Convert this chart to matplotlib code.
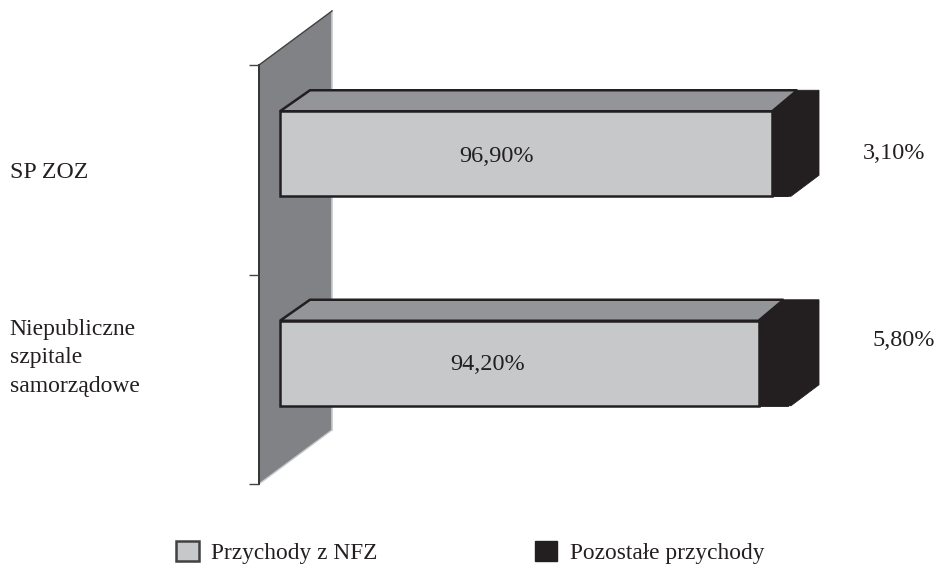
import matplotlib
matplotlib.use("Agg")
import matplotlib.pyplot as plt
from matplotlib.patches import Polygon, Patch

categories = ["SP ZOZ", "Niepubliczne\nszpitale\nsamorządowe"]
nfz_values = [96.9, 94.2]
other_values = [3.1, 5.8]
nfz_labels = ["96,90%", "94,20%"]
other_labels = ["3,10%", "5,80%"]
series_names = ["Przychody z NFZ", "Pozostałe przychody"]

plt.rcParams["font.family"] = ["Liberation Serif"]
W, H = 936, 564
PX_PER_PCT = 5.08
PX_PER_CAT = 209.5
X0, Y0 = 280, 484
FRONT, TOP, DARK, WALL, EDGE = "#c7c8ca", "#939598", "#231f20", "#808285", "#231f20"
INK = "#231f20"
FS = 17.5

fig = plt.figure(figsize=(W / 100, H / 100), dpi=100, facecolor="white")
ax = fig.add_axes([0, 0, 1, 1])
ax.set_xlim(-X0 / PX_PER_PCT, (W - X0) / PX_PER_PCT)
ax.set_ylim((Y0 - H) / PX_PER_CAT, Y0 / PX_PER_CAT)
ax.axis("off")

def dx(px):
    return px / PX_PER_PCT

def dy(px):
    return px / PX_PER_CAT

def xp(px):
    return (px - X0) / PX_PER_PCT

def yp(px):
    return (Y0 - px) / PX_PER_CAT

# wall
wall_l, wall_r = xp(259), xp(332)
ax.add_patch(Polygon([(wall_l, 0), (wall_r, dy(54)), (wall_r, 2 + dy(54)), (wall_l, 2)],
                     closed=True, fc=WALL, ec="none", zorder=1))
ax.plot([wall_r, wall_r], [dy(54), 2 + dy(54)], color="#c7c8ca", lw=1.2, zorder=1.1)
ax.plot([wall_l, wall_r], [0, dy(54)], color="#c7c8ca", lw=1.0, zorder=1.1)
ax.plot([wall_l, wall_r], [2, 2 + dy(54)], color="#414042", lw=1.0, zorder=1.1)
ax.plot([wall_l, wall_l], [0, 2], color="#333333", lw=1.4, zorder=1.2)
ax.hlines([0, 1, 2], xp(249), wall_l, color="#444444", lw=1.0, zorder=1.2)

# bars, top category first
centres = [1.5, 0.5]
lift = dy(16)
half = dy(42.5)
depth_x, depth_y = dx(30), dy(21)
inner_x = dx(25)
end_x = dx(28)
overhang = dx(3)
for i, c in enumerate(centres):
    nfz, oth = nfz_values[i], other_values[i]
    total = nfz + oth
    bot, top = c + lift - half, c + lift + half
    ax.add_patch(Polygon([(0, top), (depth_x, top + depth_y), (nfz + inner_x, top + depth_y), (nfz, top)],
                         closed=True, fc=TOP, ec=EDGE, lw=1.8, zorder=2, joinstyle="miter"))
    ax.add_patch(Polygon([(nfz, top), (nfz + inner_x, top + depth_y), (total + overhang + end_x, top + depth_y),
                          (total + overhang + end_x, bot + depth_y), (total + overhang, bot), (nfz, bot)],
                         closed=True, fc=DARK, ec=DARK, lw=0.6, zorder=2))
    ax.barh(c + lift, nfz, height=2 * half, left=0, color=FRONT, edgecolor=EDGE, linewidth=1.8, zorder=3)
    ax.barh(c + lift, oth, height=2 * half, left=nfz, color=DARK, edgecolor=DARK, linewidth=0.6, zorder=3)

ax.text(xp(496.5), yp(162.5), nfz_labels[0], ha="center", va="baseline", fontsize=FS, color=INK, zorder=4)
ax.text(xp(487.5), yp(370), nfz_labels[1], ha="center", va="baseline", fontsize=FS, color=INK, zorder=4)
ax.text(xp(894.5), yp(159), other_labels[0], ha="center", va="baseline", fontsize=FS, color=INK)
ax.text(xp(903.5), yp(346), other_labels[1], ha="center", va="baseline", fontsize=FS, color=INK)

# category labels
ax.text(xp(9.5), yp(178), categories[0], ha="left", va="baseline", fontsize=17.2, color=INK)
ax.text(xp(9.5), yp(392), categories[1], ha="left", va="baseline", fontsize=17, color=INK, linespacing=1.47)

handles = [Patch(fc=FRONT, ec="#414042", lw=1.8), Patch(fc=DARK, ec=DARK, lw=1)]
ax.legend(handles, series_names, ncol=2, loc="lower left", bbox_to_anchor=(175 / W, -1 / H),
          bbox_transform=fig.transFigure, frameon=False, fontsize=16.8, borderaxespad=0, borderpad=0.05,
          handlelength=0.97, handleheight=0.92, handletextpad=0.54, columnspacing=6.72, labelcolor=INK)

fig.savefig("out.png", dpi=100)
